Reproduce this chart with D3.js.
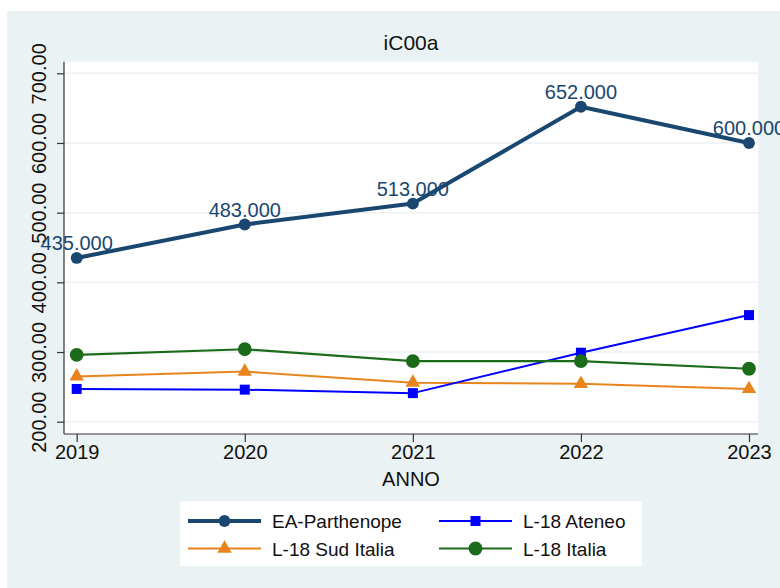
<!DOCTYPE html>
<html><head><meta charset="utf-8">
<script src="https://cdn.jsdelivr.net/npm/d3@7"></script>
<style>body{margin:0;background:#fff}svg{display:block}text{font-family:"Liberation Sans",Arial,sans-serif}</style>
</head><body>
<svg id="c" width="780" height="588"></svg>
<script>
const years = [2019, 2020, 2021, 2022, 2023];
const yTicks = [200, 300, 400, 500, 600, 700];
const eaParthenope = [435, 483, 513, 652, 600];
const l18Ateneo = [247, 246, 241, 299, 353];
const l18SudItalia = [265, 272, 256, 254.5, 247];
const l18Italia = [296, 304, 287, 287, 276];
const seriesNames = ["EA-Parthenope", "L-18 Ateneo", "L-18 Sud Italia", "L-18 Italia"];

const svg = d3.select("#c");
svg.append("rect").attr("x", 7).attr("y", 11).attr("width", 773).attr("height", 577).attr("fill", "#eaf2f3");

const plot = {l: 64, r: 758, t: 61.7, b: 434};
svg.append("rect").attr("x", plot.l).attr("y", plot.t).attr("width", plot.r - plot.l).attr("height", plot.b - plot.t).attr("fill", "#fff");

const x = d3.scaleLinear().domain([2019, 2023]).range([76.7, 749]);
const y = d3.scaleLinear().domain([200, 700]).range([421.7, 73.3]);

// gridlines
svg.append("g").selectAll("line").data(yTicks).join("line")
  .attr("x1", plot.l).attr("x2", plot.r).attr("y1", d => y(d)).attr("y2", d => y(d))
  .attr("stroke", "#eaf2f3").attr("stroke-width", 1.5);

const FONT = '"Liberation Sans",Arial,sans-serif';

// axes
const yAxis = d3.axisLeft(y).tickValues(yTicks).tickFormat(d3.format(".2f")).tickSize(7);
const gy = svg.append("g").attr("transform", `translate(${plot.l},0)`).call(yAxis);
gy.select(".domain").attr("d", `M0,${plot.t}V${plot.b}`);
gy.selectAll(".tick text").attr("x", 0).attr("y", 0).attr("dy", null)
  .attr("text-anchor", "middle").attr("transform", "translate(-18,0) rotate(-90)");

const xAxis = d3.axisBottom(x).tickValues(years).tickFormat(d3.format("d")).tickSize(8).tickPadding(3);
const gx = svg.append("g").attr("transform", `translate(0,${plot.b})`).call(xAxis);
gx.select(".domain").attr("d", `M${plot.l},0H${plot.r}`);

svg.selectAll(".domain, .tick line").attr("stroke", "#333").attr("stroke-width", 1.2);
svg.selectAll(".tick text").attr("fill", "#111").attr("font-size", 20).attr("font-family", FONT);

// title and axis title
svg.append("text").attr("x", 411).attr("y", 50).attr("text-anchor", "middle").attr("font-size", 21).attr("font-family", FONT).attr("fill", "#111").text("iC00a");
svg.append("text").attr("x", 411).attr("y", 486).attr("text-anchor", "middle").attr("font-size", 20).attr("font-family", FONT).attr("fill", "#111").text("ANNO");

const colors = {"EA-Parthenope": "#1a476f", "L-18 Ateneo": "#0000ff", "L-18 Sud Italia": "#e8841e", "L-18 Italia": "#1b6b1b"};
const widths = {"EA-Parthenope": 4, "L-18 Ateneo": 2, "L-18 Sud Italia": 2, "L-18 Italia": 2.2};
const data = {"EA-Parthenope": eaParthenope, "L-18 Ateneo": l18Ateneo, "L-18 Sud Italia": l18SudItalia, "L-18 Italia": l18Italia};
const symbols = {"EA-Parthenope": d3.symbolCircle, "L-18 Ateneo": d3.symbolSquare, "L-18 Sud Italia": d3.symbolTriangle, "L-18 Italia": d3.symbolCircle};
const sizes = {"EA-Parthenope": 110, "L-18 Ateneo": 100, "L-18 Sud Italia": 90, "L-18 Italia": 150};

const line = d3.line().x(d => x(d[0])).y(d => y(d[1]));
const order = ["L-18 Sud Italia", "L-18 Ateneo", "L-18 Italia", "EA-Parthenope"];
order.forEach(name => {
  const pts = years.map((yr, i) => [yr, data[name][i]]);
  svg.append("path").attr("d", line(pts)).attr("fill", "none").attr("stroke", colors[name]).attr("stroke-width", widths[name]).attr("stroke-linejoin", "round");
  svg.append("g").selectAll("path").data(pts).join("path")
    .attr("d", d3.symbol().type(symbols[name]).size(sizes[name]))
    .attr("transform", d => `translate(${x(d[0])},${y(d[1])})`).attr("fill", colors[name]);
});

// data labels
svg.append("g").selectAll("text").data(years.map((yr, i) => [yr, eaParthenope[i]])).join("text")
  .attr("x", d => x(d[0])).attr("y", d => y(d[1]) - 8).attr("text-anchor", "middle")
  .attr("font-size", 20).attr("font-family", FONT).attr("fill", "#1a476f").text(d => d3.format(".3f")(d[1]));

// legend
svg.append("rect").attr("x", 180).attr("y", 501.5).attr("width", 462).attr("height", 64.5).attr("fill", "#fff");
const legPos = [
  {name: "EA-Parthenope", x0: 188, y0: 521},
  {name: "L-18 Ateneo", x0: 439, y0: 521},
  {name: "L-18 Sud Italia", x0: 188, y0: 548.5},
  {name: "L-18 Italia", x0: 439, y0: 548.5}
];
const lg = svg.append("g").selectAll("g").data(legPos).join("g").attr("transform", d => `translate(${d.x0},${d.y0})`);
lg.append("line").attr("x1", 0).attr("x2", 73).attr("stroke", d => colors[d.name]).attr("stroke-width", d => widths[d.name]);
lg.append("path").attr("d", d => d3.symbol().type(symbols[d.name]).size(sizes[d.name])()).attr("transform", "translate(36.5,0)").attr("fill", d => colors[d.name]);
lg.append("text").attr("x", 84).attr("y", 7).attr("font-size", 19).attr("font-family", FONT).attr("fill", "#111").text(d => d.name);
</script>
</body></html>
